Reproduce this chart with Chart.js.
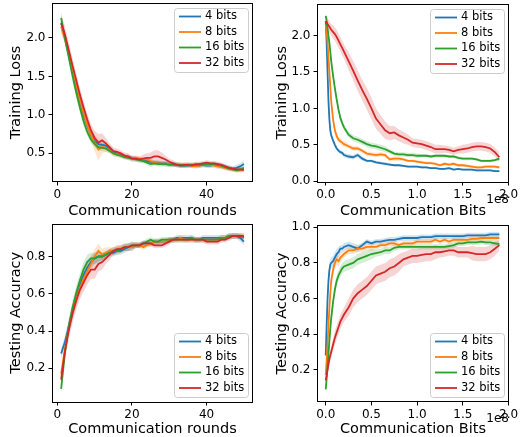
<!DOCTYPE html>
<html>
<head>
<meta charset="utf-8">
<script src="https://cdn.jsdelivr.net/npm/chart.js@4.4.0/dist/chart.umd.min.js"></script>
<style>
  html, body { margin: 0; padding: 0; background: #fff; }
  #wrap { position: relative; width: 520px; height: 437px; }
  canvas { position: absolute; }
</style>
</head>
<body>
<div id="wrap">
  <canvas id="lossRounds" width="260" height="218" style="left:0;top:0"></canvas>
  <canvas id="lossBits" width="260" height="218" style="left:260px;top:0"></canvas>
  <canvas id="accRounds" width="260" height="219" style="left:0;top:218px"></canvas>
  <canvas id="accBits" width="260" height="219" style="left:260px;top:218px"></canvas>
</div>
<script>
// ---------------- series ----------------
const seriesNames = ["4 bits", "8 bits", "16 bits", "32 bits"];
const seriesColors = ["#1f77b4", "#ff7f0e", "#2ca02c", "#d62728"];
const bandColors = ["rgba(31,119,180,0.2)", "rgba(255,127,14,0.2)", "rgba(44,160,44,0.2)", "rgba(214,39,40,0.2)"];

const rounds = [1, 2, 3, 4, 5, 6, 7, 8, 9, 10, 11, 12, 13, 14, 15, 16, 17, 18, 19, 20,
  21, 22, 23, 24, 25, 26, 27, 28, 29, 30, 31, 32, 33, 34, 35, 36, 37, 38, 39, 40,
  41, 42, 43, 44, 45, 46, 47, 48, 49, 50];

// communication bits, in units of 1e8
const bitsX = [0, 0.01, 0.02, 0.03, 0.04, 0.05, 0.06, 0.08, 0.10, 0.12, 0.14, 0.16, 0.18, 0.20,
  0.25, 0.30, 0.35, 0.40, 0.45, 0.50, 0.55, 0.60, 0.65, 0.70, 0.75, 0.80, 0.85, 0.90, 0.95, 1.00,
  1.05, 1.10, 1.15, 1.20, 1.25, 1.30, 1.35, 1.40, 1.45, 1.50, 1.55, 1.60, 1.65, 1.70, 1.75, 1.80,
  1.85, 1.90];

// ===== training loss / rounds =====
const lossR4 = [2.20, 2.02, 1.80, 1.58, 1.38, 1.18, 1.00, 0.86, 0.74, 0.66, 0.62, 0.61, 0.60, 0.56, 0.52, 0.50, 0.48, 0.46, 0.45, 0.44,
  0.43, 0.42, 0.41, 0.40, 0.39, 0.38, 0.38, 0.37, 0.37, 0.36, 0.36, 0.35, 0.34, 0.34, 0.34, 0.35, 0.34, 0.34, 0.35, 0.34,
  0.34, 0.35, 0.34, 0.33, 0.32, 0.31, 0.30, 0.31, 0.33, 0.36];
const lossR8 = [2.15, 2.00, 1.80, 1.60, 1.40, 1.20, 1.02, 0.87, 0.74, 0.63, 0.55, 0.58, 0.57, 0.54, 0.50, 0.49, 0.47, 0.46, 0.45, 0.44,
  0.44, 0.43, 0.42, 0.42, 0.40, 0.38, 0.37, 0.37, 0.36, 0.36, 0.36, 0.36, 0.35, 0.35, 0.35, 0.34, 0.33, 0.34, 0.35, 0.35,
  0.35, 0.34, 0.33, 0.32, 0.31, 0.30, 0.29, 0.28, 0.28, 0.29];
const lossR16 = [2.26, 2.00, 1.76, 1.52, 1.30, 1.10, 0.92, 0.78, 0.68, 0.62, 0.58, 0.57, 0.56, 0.53, 0.50, 0.48, 0.47, 0.45, 0.44, 0.43,
  0.42, 0.41, 0.40, 0.38, 0.36, 0.37, 0.36, 0.36, 0.36, 0.35, 0.35, 0.35, 0.35, 0.34, 0.35, 0.35, 0.35, 0.35, 0.35, 0.36,
  0.36, 0.36, 0.35, 0.34, 0.32, 0.30, 0.29, 0.28, 0.29, 0.31];
const lossR32 = [2.19, 2.05, 1.85, 1.65, 1.46, 1.27, 1.10, 0.94, 0.80, 0.70, 0.64, 0.67, 0.63, 0.58, 0.53, 0.52, 0.50, 0.47, 0.46, 0.43,
  0.43, 0.42, 0.43, 0.44, 0.44, 0.46, 0.46, 0.44, 0.42, 0.39, 0.37, 0.35, 0.34, 0.35, 0.35, 0.34, 0.36, 0.36, 0.37, 0.38,
  0.37, 0.37, 0.36, 0.35, 0.33, 0.31, 0.30, 0.29, 0.29, 0.28];
const lossR4Sd = [0.08, 0.08, 0.08, 0.07, 0.07, 0.06, 0.06, 0.05, 0.05, 0.05, 0.04, 0.04, 0.04, 0.04, 0.03, 0.03, 0.03, 0.03, 0.03, 0.03,
  0.03, 0.03, 0.03, 0.03, 0.03, 0.03, 0.03, 0.03, 0.03, 0.03, 0.03, 0.03, 0.03, 0.03, 0.03, 0.03, 0.03, 0.03, 0.03, 0.03,
  0.03, 0.03, 0.03, 0.03, 0.03, 0.03, 0.03, 0.04, 0.04, 0.05];
const lossR8Sd = [0.09, 0.08, 0.08, 0.08, 0.07, 0.07, 0.07, 0.07, 0.08, 0.10, 0.14, 0.08, 0.05, 0.04, 0.04, 0.03, 0.03, 0.03, 0.03, 0.03,
  0.03, 0.03, 0.03, 0.03, 0.03, 0.03, 0.03, 0.03, 0.03, 0.03, 0.03, 0.03, 0.03, 0.03, 0.03, 0.03, 0.03, 0.03, 0.03, 0.03,
  0.03, 0.03, 0.03, 0.03, 0.03, 0.03, 0.03, 0.03, 0.03, 0.03];
const lossR16Sd = [0.08, 0.07, 0.07, 0.07, 0.06, 0.06, 0.06, 0.05, 0.05, 0.04, 0.04, 0.04, 0.04, 0.03, 0.03, 0.03, 0.03, 0.03, 0.03, 0.03,
  0.03, 0.03, 0.03, 0.03, 0.04, 0.03, 0.03, 0.03, 0.03, 0.03, 0.03, 0.03, 0.03, 0.03, 0.03, 0.03, 0.03, 0.03, 0.03, 0.03,
  0.03, 0.03, 0.03, 0.03, 0.03, 0.03, 0.03, 0.03, 0.03, 0.03];
const lossR32Sd = [0.12, 0.11, 0.10, 0.10, 0.09, 0.09, 0.08, 0.08, 0.08, 0.09, 0.11, 0.09, 0.07, 0.05, 0.05, 0.04, 0.04, 0.04, 0.04, 0.04,
  0.04, 0.04, 0.05, 0.06, 0.07, 0.08, 0.08, 0.07, 0.05, 0.04, 0.04, 0.03, 0.03, 0.03, 0.03, 0.03, 0.03, 0.03, 0.03, 0.03,
  0.03, 0.03, 0.03, 0.03, 0.03, 0.03, 0.03, 0.03, 0.03, 0.03];

// ===== training loss / bits =====
const lossB4 = [2.20, 1.90, 1.50, 1.10, 0.85, 0.70, 0.63, 0.56, 0.50, 0.45, 0.42, 0.40, 0.39, 0.36,
  0.34, 0.33, 0.36, 0.31, 0.28, 0.28, 0.26, 0.25, 0.24, 0.23, 0.22, 0.22, 0.21, 0.20, 0.20, 0.20,
  0.19, 0.19, 0.18, 0.18, 0.17, 0.17, 0.18, 0.16, 0.17, 0.16, 0.16, 0.16, 0.15, 0.15, 0.15, 0.15,
  0.14, 0.14];
const lossB8 = [2.15, 2.05, 1.90, 1.70, 1.50, 1.30, 1.10, 0.85, 0.70, 0.62, 0.57, 0.55, 0.53, 0.51,
  0.48, 0.45, 0.45, 0.42, 0.38, 0.37, 0.36, 0.37, 0.36, 0.30, 0.31, 0.31, 0.30, 0.28, 0.28, 0.27,
  0.26, 0.25, 0.25, 0.24, 0.22, 0.24, 0.23, 0.24, 0.22, 0.22, 0.21, 0.20, 0.19, 0.19, 0.20, 0.20,
  0.20, 0.19];
const lossB16 = [2.27, 2.20, 2.10, 2.00, 1.90, 1.78, 1.65, 1.45, 1.28, 1.12, 0.98, 0.87, 0.80, 0.74,
  0.64, 0.59, 0.57, 0.54, 0.51, 0.49, 0.48, 0.46, 0.44, 0.41, 0.38, 0.37, 0.37, 0.36, 0.36, 0.35,
  0.35, 0.35, 0.34, 0.35, 0.35, 0.35, 0.34, 0.34, 0.32, 0.31, 0.31, 0.31, 0.30, 0.28, 0.28, 0.28,
  0.29, 0.31];
const lossB32 = [2.20, 2.18, 2.16, 2.14, 2.12, 2.10, 2.08, 2.05, 2.02, 1.98, 1.93, 1.88, 1.83, 1.78,
  1.65, 1.52, 1.38, 1.25, 1.13, 1.00, 0.86, 0.78, 0.70, 0.66, 0.67, 0.63, 0.60, 0.57, 0.53, 0.52,
  0.51, 0.49, 0.47, 0.44, 0.44, 0.44, 0.43, 0.41, 0.43, 0.44, 0.45, 0.47, 0.48, 0.48, 0.47, 0.45,
  0.40, 0.33];
const lossB4Sd = [0.06, 0.06, 0.06, 0.06, 0.05, 0.04, 0.04, 0.03, 0.03, 0.03, 0.03, 0.03, 0.03, 0.03,
  0.03, 0.03, 0.03, 0.03, 0.02, 0.02, 0.02, 0.02, 0.02, 0.02, 0.015, 0.015, 0.015, 0.015, 0.015, 0.015,
  0.015, 0.015, 0.015, 0.015, 0.015, 0.015, 0.015, 0.015, 0.015, 0.015, 0.015, 0.015, 0.015, 0.015, 0.015, 0.015,
  0.015, 0.015];
const lossB8Sd = [0.05, 0.05, 0.05, 0.05, 0.05, 0.05, 0.05, 0.05, 0.05, 0.05, 0.04, 0.04, 0.04, 0.04,
  0.03, 0.03, 0.03, 0.03, 0.03, 0.03, 0.03, 0.03, 0.03, 0.03, 0.03, 0.03, 0.02, 0.02, 0.02, 0.02,
  0.02, 0.02, 0.02, 0.02, 0.02, 0.02, 0.02, 0.02, 0.02, 0.02, 0.02, 0.02, 0.02, 0.02, 0.02, 0.02,
  0.02, 0.02];
const lossB16Sd = [0.05, 0.05, 0.05, 0.05, 0.05, 0.05, 0.05, 0.05, 0.05, 0.05, 0.05, 0.05, 0.04, 0.04,
  0.04, 0.04, 0.04, 0.04, 0.04, 0.04, 0.04, 0.04, 0.04, 0.03, 0.03, 0.03, 0.03, 0.03, 0.03, 0.03,
  0.02, 0.02, 0.02, 0.02, 0.02, 0.02, 0.02, 0.02, 0.02, 0.02, 0.02, 0.02, 0.02, 0.02, 0.02, 0.02,
  0.02, 0.02];
const lossB32Sd = [0.08, 0.08, 0.08, 0.08, 0.08, 0.08, 0.08, 0.09, 0.09, 0.10, 0.10, 0.10, 0.10, 0.10,
  0.12, 0.13, 0.14, 0.14, 0.15, 0.15, 0.14, 0.13, 0.12, 0.10, 0.09, 0.08, 0.08, 0.07, 0.06, 0.06,
  0.06, 0.06, 0.06, 0.06, 0.06, 0.05, 0.05, 0.05, 0.05, 0.06, 0.06, 0.06, 0.06, 0.06, 0.06, 0.06,
  0.06, 0.07];

// ===== testing accuracy / rounds =====
const accR4 = [0.28, 0.34, 0.42, 0.50, 0.58, 0.64, 0.70, 0.74, 0.77, 0.79, 0.80, 0.80, 0.81, 0.82, 0.82, 0.83, 0.83, 0.84, 0.85, 0.85,
  0.86, 0.86, 0.87, 0.87, 0.87, 0.88, 0.88, 0.88, 0.88, 0.89, 0.89, 0.90, 0.90, 0.90, 0.90, 0.90, 0.89, 0.89, 0.90, 0.90,
  0.90, 0.90, 0.90, 0.90, 0.90, 0.91, 0.91, 0.91, 0.90, 0.88];
const accR8 = [0.17, 0.30, 0.41, 0.50, 0.57, 0.63, 0.68, 0.72, 0.76, 0.80, 0.83, 0.81, 0.82, 0.83, 0.83, 0.84, 0.84, 0.85, 0.85, 0.85,
  0.86, 0.86, 0.85, 0.86, 0.87, 0.88, 0.88, 0.88, 0.88, 0.89, 0.89, 0.89, 0.90, 0.89, 0.89, 0.89, 0.89, 0.89, 0.89, 0.89,
  0.89, 0.89, 0.89, 0.90, 0.90, 0.91, 0.91, 0.91, 0.91, 0.91];
const accR16 = [0.09, 0.28, 0.42, 0.52, 0.60, 0.67, 0.73, 0.77, 0.79, 0.79, 0.80, 0.80, 0.81, 0.82, 0.83, 0.83, 0.84, 0.85, 0.85, 0.86,
  0.86, 0.86, 0.87, 0.88, 0.89, 0.88, 0.88, 0.89, 0.89, 0.89, 0.89, 0.89, 0.89, 0.89, 0.89, 0.90, 0.89, 0.89, 0.89, 0.89,
  0.89, 0.89, 0.89, 0.90, 0.90, 0.91, 0.91, 0.91, 0.91, 0.90];
const accR32 = [0.14, 0.29, 0.40, 0.49, 0.56, 0.62, 0.66, 0.70, 0.73, 0.73, 0.76, 0.77, 0.79, 0.81, 0.83, 0.84, 0.84, 0.85, 0.85, 0.86,
  0.86, 0.86, 0.87, 0.87, 0.87, 0.86, 0.86, 0.86, 0.87, 0.88, 0.89, 0.89, 0.89, 0.89, 0.89, 0.89, 0.89, 0.89, 0.89, 0.88,
  0.88, 0.88, 0.88, 0.89, 0.89, 0.90, 0.91, 0.91, 0.91, 0.91];
const accR4Sd = [0.03, 0.03, 0.04, 0.04, 0.04, 0.04, 0.04, 0.04, 0.03, 0.03, 0.03, 0.02, 0.02, 0.02, 0.02, 0.02, 0.02, 0.02, 0.02, 0.02,
  0.015, 0.015, 0.015, 0.015, 0.015, 0.015, 0.015, 0.015, 0.015, 0.015, 0.015, 0.015, 0.015, 0.015, 0.015, 0.015, 0.015, 0.015, 0.015, 0.015,
  0.015, 0.015, 0.015, 0.015, 0.015, 0.015, 0.015, 0.015, 0.02, 0.02];
const accR8Sd = [0.03, 0.03, 0.04, 0.04, 0.04, 0.04, 0.04, 0.04, 0.04, 0.04, 0.04, 0.03, 0.03, 0.02, 0.02, 0.02, 0.02, 0.02, 0.02, 0.02,
  0.015, 0.015, 0.015, 0.015, 0.015, 0.015, 0.015, 0.015, 0.015, 0.015, 0.015, 0.015, 0.015, 0.015, 0.015, 0.015, 0.015, 0.015, 0.015, 0.015,
  0.015, 0.015, 0.015, 0.015, 0.015, 0.015, 0.015, 0.015, 0.015, 0.015];
const accR16Sd = [0.03, 0.04, 0.04, 0.04, 0.04, 0.04, 0.04, 0.04, 0.03, 0.03, 0.03, 0.02, 0.02, 0.02, 0.02, 0.02, 0.02, 0.02, 0.02, 0.02,
  0.015, 0.015, 0.015, 0.015, 0.015, 0.015, 0.015, 0.015, 0.015, 0.015, 0.015, 0.015, 0.015, 0.015, 0.015, 0.015, 0.015, 0.015, 0.015, 0.015,
  0.015, 0.015, 0.015, 0.015, 0.015, 0.015, 0.015, 0.015, 0.015, 0.015];
const accR32Sd = [0.03, 0.04, 0.05, 0.05, 0.05, 0.05, 0.05, 0.05, 0.05, 0.05, 0.04, 0.04, 0.03, 0.03, 0.02, 0.02, 0.02, 0.02, 0.02, 0.02,
  0.015, 0.015, 0.015, 0.015, 0.015, 0.015, 0.015, 0.015, 0.015, 0.015, 0.015, 0.015, 0.015, 0.015, 0.015, 0.015, 0.015, 0.015, 0.015, 0.015,
  0.015, 0.015, 0.015, 0.015, 0.015, 0.015, 0.015, 0.015, 0.015, 0.015];

// ===== testing accuracy / bits =====
const accB4 = [0.28, 0.45, 0.60, 0.70, 0.76, 0.79, 0.80, 0.81, 0.83, 0.85, 0.86, 0.88, 0.88, 0.89,
  0.90, 0.89, 0.88, 0.90, 0.92, 0.91, 0.92, 0.92, 0.925, 0.93, 0.93, 0.935, 0.94, 0.94, 0.94, 0.94,
  0.945, 0.945, 0.945, 0.95, 0.95, 0.95, 0.95, 0.95, 0.95, 0.95, 0.955, 0.955, 0.955, 0.955, 0.955, 0.96,
  0.96, 0.96];
const accB8 = [0.17, 0.25, 0.35, 0.45, 0.55, 0.63, 0.70, 0.76, 0.80, 0.82, 0.81, 0.83, 0.84, 0.85,
  0.87, 0.87, 0.88, 0.88, 0.89, 0.89, 0.89, 0.90, 0.90, 0.91, 0.91, 0.90, 0.91, 0.91, 0.91, 0.92,
  0.92, 0.92, 0.92, 0.93, 0.92, 0.93, 0.92, 0.93, 0.93, 0.93, 0.93, 0.935, 0.935, 0.94, 0.94, 0.94,
  0.94, 0.94];
const accB16 = [0.09, 0.15, 0.22, 0.29, 0.36, 0.43, 0.49, 0.58, 0.65, 0.70, 0.73, 0.75, 0.77, 0.78,
  0.79, 0.80, 0.82, 0.83, 0.84, 0.85, 0.855, 0.86, 0.87, 0.87, 0.885, 0.89, 0.89, 0.89, 0.89, 0.89,
  0.89, 0.89, 0.89, 0.89, 0.89, 0.89, 0.895, 0.90, 0.91, 0.91, 0.915, 0.915, 0.915, 0.92, 0.915, 0.915,
  0.91, 0.905];
const accB32 = [0.14, 0.17, 0.20, 0.23, 0.26, 0.28, 0.30, 0.34, 0.38, 0.41, 0.44, 0.47, 0.49, 0.51,
  0.55, 0.60, 0.63, 0.65, 0.67, 0.70, 0.73, 0.74, 0.75, 0.77, 0.78, 0.80, 0.82, 0.83, 0.84, 0.84,
  0.845, 0.85, 0.85, 0.86, 0.86, 0.865, 0.87, 0.87, 0.86, 0.86, 0.86, 0.855, 0.85, 0.85, 0.85, 0.86,
  0.88, 0.90];
const accB4Sd = [0.02, 0.03, 0.04, 0.04, 0.04, 0.03, 0.03, 0.03, 0.03, 0.03, 0.03, 0.02, 0.02, 0.02,
  0.02, 0.02, 0.02, 0.015, 0.015, 0.015, 0.015, 0.015, 0.015, 0.015, 0.015, 0.015, 0.015, 0.015, 0.015, 0.015,
  0.015, 0.015, 0.015, 0.015, 0.015, 0.015, 0.015, 0.015, 0.015, 0.015, 0.015, 0.015, 0.015, 0.015, 0.015, 0.015,
  0.015, 0.015];
const accB8Sd = [0.02, 0.03, 0.03, 0.03, 0.03, 0.03, 0.03, 0.03, 0.03, 0.03, 0.03, 0.03, 0.02, 0.02,
  0.02, 0.02, 0.02, 0.02, 0.02, 0.02, 0.015, 0.015, 0.015, 0.015, 0.015, 0.015, 0.015, 0.015, 0.015, 0.015,
  0.015, 0.015, 0.015, 0.015, 0.015, 0.015, 0.015, 0.015, 0.015, 0.015, 0.015, 0.015, 0.015, 0.015, 0.015, 0.015,
  0.015, 0.015];
const accB16Sd = [0.02, 0.03, 0.03, 0.03, 0.03, 0.03, 0.03, 0.03, 0.03, 0.03, 0.03, 0.03, 0.03, 0.03,
  0.03, 0.03, 0.03, 0.03, 0.03, 0.03, 0.02, 0.02, 0.02, 0.02, 0.02, 0.015, 0.015, 0.015, 0.015, 0.015,
  0.015, 0.015, 0.015, 0.015, 0.015, 0.015, 0.015, 0.015, 0.015, 0.015, 0.015, 0.015, 0.015, 0.015, 0.015, 0.015,
  0.015, 0.015];
const accB32Sd = [0.02, 0.02, 0.03, 0.03, 0.03, 0.03, 0.03, 0.03, 0.04, 0.04, 0.04, 0.04, 0.04, 0.04,
  0.05, 0.05, 0.05, 0.05, 0.05, 0.05, 0.05, 0.05, 0.05, 0.05, 0.05, 0.05, 0.04, 0.04, 0.04, 0.04,
  0.04, 0.04, 0.04, 0.04, 0.03, 0.03, 0.03, 0.03, 0.03, 0.03, 0.03, 0.04, 0.04, 0.04, 0.04, 0.04,
  0.04, 0.03];

// ---------------- drawing ----------------
const FONT = "DejaVu Sans";

// black box around the plot area
const frameBox = {
  id: "frameBox",
  afterDraw(chart) {
    const { ctx, chartArea: a } = chart;
    ctx.save();
    ctx.strokeStyle = "#000";
    ctx.lineWidth = 1;
    ctx.strokeRect(Math.round(a.left) + 0.5, Math.round(a.top) + 0.5,
      Math.round(a.right - a.left) - 1, Math.round(a.bottom - a.top) - 1);
    ctx.restore();
  }
};

// matplotlib-like legend box, upper or lower right
const boxLegend = {
  id: "boxLegend",
  afterDraw(chart, args, opts) {
    const { ctx, chartArea: a } = chart;
    const items = chart.data.datasets.filter(d => d.inLegend);
    const w = 74, h = 64;
    const x = Math.round(a.right) - 5 - w;
    const y = opts.corner === "upper" ? Math.round(a.top) + 5 : Math.round(a.bottom) - 5 - h;
    ctx.save();
    ctx.beginPath();
    ctx.roundRect(x + 0.5, y + 0.5, w, h, 3);
    ctx.fillStyle = "rgba(255,255,255,0.8)";
    ctx.fill();
    ctx.strokeStyle = "#cccccc";
    ctx.lineWidth = 1;
    ctx.stroke();
    ctx.font = "11.5px '" + FONT + "'";
    ctx.textBaseline = "middle";
    items.forEach((d, i) => {
      const cy = y + 8.5 + i * 15.5;
      ctx.strokeStyle = d.borderColor;
      ctx.lineWidth = 1.8;
      ctx.beginPath();
      ctx.moveTo(x + 5, cy);
      ctx.lineTo(x + 27, cy);
      ctx.stroke();
      ctx.fillStyle = "#000";
      ctx.fillText(d.label, x + 31, cy);
    });
    ctx.restore();
  }
};

// scale factor written under the right end of the x axis
const offsetText = {
  id: "offsetText",
  afterDraw(chart, args, opts) {
    if (!opts.text) return;
    const { ctx, chartArea: a } = chart;
    ctx.save();
    ctx.font = "12px '" + FONT + "'";
    ctx.fillStyle = "#000";
    ctx.textAlign = "right";
    ctx.textBaseline = "middle";
    ctx.fillText(opts.text, a.right, opts.y);
    ctx.restore();
  }
};

function buildDatasets(xs, means, spreads) {
  const bands = [], lines = [];
  means.forEach((ys, i) => {
    const lo = ys.map((y, k) => ({ x: xs[k], y: y - spreads[i][k] }));
    const hi = ys.map((y, k) => ({ x: xs[k], y: y + spreads[i][k] }));
    const loIndex = bands.length;
    bands.push({ data: lo, borderColor: "transparent", borderWidth: 0, pointRadius: 0, fill: false, order: 20 + i });
    bands.push({ data: hi, borderColor: "transparent", borderWidth: 0, pointRadius: 0,
      backgroundColor: bandColors[i], fill: loIndex, order: 20 + i });
    lines.push({
      label: seriesNames[i], inLegend: true,
      data: ys.map((y, k) => ({ x: xs[k], y: y })),
      borderColor: seriesColors[i], backgroundColor: seriesColors[i],
      borderWidth: 1.8, pointRadius: 0, fill: false, tension: 0, order: 3 - i
    });
  });
  return bands.concat(lines);
}

function zeroPad(s) {
  s.paddingLeft = 0; s.paddingRight = 0; s.paddingTop = 0; s.paddingBottom = 0;
}

function panel(id, cfg) {
  const tickFont = { family: FONT, size: 12 };
  const titleFont = { family: FONT, size: 14.5, lineHeight: 1 };
  const tickGrid = { display: true, drawOnChartArea: false, drawTicks: true, tickLength: 3.5, tickWidth: 1, tickColor: "#000" };
  return new Chart(document.getElementById(id), {
    type: "line",
    data: { datasets: buildDatasets(cfg.xs, cfg.means, cfg.spreads) },
    options: {
      responsive: false,
      animation: false,
      layout: { padding: { left: 0, top: cfg.padTop, right: cfg.padRight, bottom: 0 } },
      scales: {
        x: {
          type: "linear", min: cfg.xMin, max: cfg.xMax,
          grid: tickGrid, border: { display: false },
          ticks: { stepSize: cfg.xStep, includeBounds: false, autoSkip: false, maxRotation: 0,
            color: "#000", font: tickFont, padding: 2, callback: cfg.xFmt },
          title: { display: true, text: cfg.xTitle, color: "#000", font: titleFont,
            padding: { top: 0, bottom: cfg.xTitlePad } },
          afterFit(s) { s.height = cfg.xHeight; zeroPad(s); }
        },
        y: {
          type: "linear", min: cfg.yMin, max: cfg.yMax,
          grid: tickGrid, border: { display: false },
          ticks: { stepSize: cfg.yStep, includeBounds: false, autoSkip: false,
            color: "#000", font: tickFont, padding: 3, callback: v => v.toFixed(1) },
          title: { display: true, text: cfg.yTitle, color: "#000", font: titleFont,
            padding: { top: cfg.yTitlePad, bottom: 0 } },
          afterFit(s) { s.width = cfg.yWidth; zeroPad(s); }
        }
      },
      plugins: {
        legend: { display: false },
        tooltip: { enabled: false },
        boxLegend: { corner: cfg.corner },
        offsetText: { text: cfg.offset, y: cfg.offsetY }
      }
    },
    plugins: [frameBox, boxLegend, offsetText]
  });
}

const roundsFmt = v => String(v);
const bitsFmt = v => v.toFixed(1);

panel("lossRounds", {
  xs: rounds, means: [lossR4, lossR8, lossR16, lossR32], spreads: [lossR4Sd, lossR8Sd, lossR16Sd, lossR32Sd],
  xMin: -1.45, xMax: 52.45, xStep: 20, xFmt: roundsFmt, xTitle: "Communication rounds",
  yMin: 0.127, yMax: 2.455, yStep: 0.5, yTitle: "Training Loss",
  padTop: 3, padRight: 7, yWidth: 52, xHeight: 36, xTitlePad: 0, yTitlePad: 8.5, corner: "upper"
});

panel("lossBits", {
  xs: bitsX, means: [lossB4, lossB8, lossB16, lossB32], spreads: [lossB4Sd, lossB8Sd, lossB16Sd, lossB32Sd],
  xMin: -0.0955, xMax: 2.005, xStep: 0.5, xFmt: bitsFmt, xTitle: "Communication Bits",
  yMin: -0.01, yMax: 2.44, yStep: 0.5, yTitle: "Training Loss",
  padTop: 3.5, padRight: 11, yWidth: 57, xHeight: 36, xTitlePad: 0, yTitlePad: 14.5, corner: "upper",
  offset: "1e8", offsetY: 200
});

panel("accRounds", {
  xs: rounds, means: [accR4, accR8, accR16, accR32], spreads: [accR4Sd, accR8Sd, accR16Sd, accR32Sd],
  xMin: -1.45, xMax: 52.45, xStep: 20, xFmt: roundsFmt, xTitle: "Communication rounds",
  yMin: 0.0195, yMax: 0.977, yStep: 0.2, yTitle: "Testing Accuracy",
  padTop: 5.5, padRight: 7, yWidth: 52, xHeight: 35, xTitlePad: 1, yTitlePad: 8.5, corner: "lower"
});

panel("accBits", {
  xs: bitsX, means: [accB4, accB8, accB16, accB32], spreads: [accB4Sd, accB8Sd, accB16Sd, accB32Sd],
  xMin: -0.0955, xMax: 2.005, xStep: 0.5, xFmt: bitsFmt, xTitle: "Communication Bits",
  yMin: 0.019, yMax: 1.013, yStep: 0.2, yTitle: "Testing Accuracy",
  padTop: 7, padRight: 11, yWidth: 57, xHeight: 35, xTitlePad: 1, yTitlePad: 14.5, corner: "lower",
  offset: "1e8", offsetY: 201
});
</script>
</body>
</html>
